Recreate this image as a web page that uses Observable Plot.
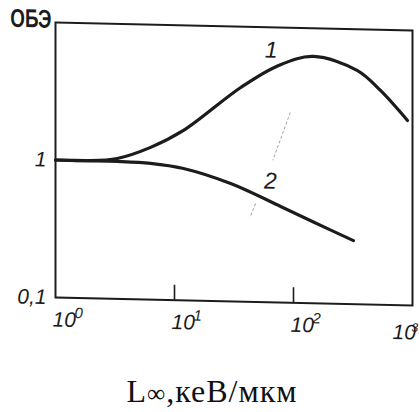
<!DOCTYPE html>
<html>
<head>
<meta charset="utf-8">
<script src="https://cdn.jsdelivr.net/npm/d3@7"></script>
<script src="https://cdn.jsdelivr.net/npm/@observablehq/plot@0.6"></script>
<style>
  html, body { margin: 0; padding: 0; background: #fff; }
  #wrap { position: relative; width: 420px; height: 412px; overflow: hidden; background: #fff; }
  #chart { position: absolute; left: 0; top: 0; }
  #chart svg { transform: skewY(1.28deg); transform-origin: 55px 297px; overflow: hidden; }
  #caption { position: absolute; left: 2px; top: 373px; width: 420px; text-align: center;
    font-family: "Liberation Serif", "Times New Roman", serif; font-size: 32px; line-height: normal;
    letter-spacing: 1px; color: #111; }
  #caption .inf { font-size: 0.8em; }
</style>
</head>
<body>
<div id="wrap">
  <div id="chart"></div>
  <div id="caption">L<span class="inf">∞</span>,кеВ/мкм</div>
</div>
<script>
// Curve 1
const x1 = [1, 1.8, 3.3, 6.3, 11.9, 36, 75, 147, 345, 538, 908];
const y1 = [1.0, 1.0, 1.05, 1.28, 1.72, 3.61, 5.3, 6.24, 5.01, 3.62, 2.21];
// Curve 2
const x2 = [1, 1.8, 3.3, 6.3, 11.9, 29.6, 78, 147, 319];
const y2 = [1.0, 1.0, 1.0, 0.98, 0.91, 0.72, 0.50, 0.39, 0.29];
// Curve labels
const labelText = ["1", "2"];
const labelX = [65, 64];
const labelY = [6.8, 0.76];
// Leader strokes (faint)
const leadX1 = [94, 48], leadY1 = [2.42, 0.52];
const leadX2 = [67, 43], leadY2 = [1.08, 0.41];
// Axis ticks / labels
const xTickVals = [1, 10, 100];
const xTickExp = ["0", "1", "2"];
const xLastVal = [1000];
const xLastExp = ["3"];
const xInnerTicks = [10, 100];
const yTickVals = [1, 0.1];
const yTickText = ["1", "0,1"];
const yTitle = "ОБЭ";

const c1 = x1.map((x, i) => ({x, y: y1[i]}));
const c2 = x2.map((x, i) => ({x, y: y2[i]}));
const labels = labelText.map((t, i) => ({t, x: labelX[i], y: labelY[i]}));
const leads = leadX1.map((x, i) => ({x1: x, y1: leadY1[i], x2: leadX2[i], y2: leadY2[i]}));

const tickFont = "'Liberation Sans Narrow', 'Liberation Sans', sans-serif";
const ink = "#1c1c1c";

const chart = Plot.plot({
  width: 420,
  height: 345,
  marginLeft: 55,
  marginRight: 8,
  marginTop: 22,
  marginBottom: 48,
  style: {background: "transparent", color: ink},
  x: {type: "log", domain: [1, 1000], axis: null},
  y: {type: "log", domain: [0.1, 10], axis: null},
  marks: [
    Plot.frame({stroke: ink, strokeWidth: 2}),
    Plot.ruleX(xInnerTicks, {x: d => d, y1: 0.1, y2: 0.1, insetTop: -15, stroke: ink, strokeWidth: 1.6}),
    Plot.link(leads, {x1: "x1", y1: "y1", x2: "x2", y2: "y2", stroke: "#aaa", strokeWidth: 1, strokeDasharray: "3,2"}),
    Plot.line(c1, {x: "x", y: "y", curve: "catmull-rom", stroke: ink, strokeWidth: 3.2}),
    Plot.line(c2, {x: "x", y: "y", curve: "catmull-rom", stroke: ink, strokeWidth: 3.2}),
    Plot.text(labels, {x: "x", y: "y", text: "t", fontSize: 23, fontStyle: "italic", fontFamily: tickFont, fill: ink}),
    // x tick labels
    Plot.text(xTickVals, {x: d => d, frameAnchor: "bottom", lineAnchor: "bottom", text: () => "10", dy: 29, dx: -3, textAnchor: "start",
      fontSize: 21, fontStyle: "italic", fontFamily: tickFont, fill: ink}),
    Plot.text(xTickVals, {x: d => d, frameAnchor: "bottom", lineAnchor: "bottom", text: (d, i) => xTickExp[i], dy: 20, dx: 19, textAnchor: "start",
      fontSize: 15, fontStyle: "italic", fontFamily: tickFont, fill: ink}),
    Plot.text(xLastVal, {x: d => d, frameAnchor: "bottom", lineAnchor: "bottom", text: () => "10", dy: 34, dx: -20, textAnchor: "start",
      fontSize: 21, fontStyle: "italic", fontFamily: tickFont, fill: ink}),
    Plot.text(xLastVal, {x: d => d, frameAnchor: "bottom", lineAnchor: "bottom", text: (d, i) => xLastExp[i], dy: 26, dx: -1, textAnchor: "start",
      fontSize: 12, fontStyle: "italic", fontFamily: tickFont, fill: ink}),
    // y tick labels
    Plot.text(yTickVals, {y: d => d, frameAnchor: "left", text: (d, i) => yTickText[i], dx: -9, textAnchor: "end",
      fontSize: 21, fontStyle: "italic", fontFamily: tickFont, fill: ink}),
    Plot.text([yTitle], {frameAnchor: "top-left", lineAnchor: "middle", text: d => d, dx: -4, dy: -3, textAnchor: "end",
      fontSize: 23, fontWeight: "bold", fontFamily: tickFont, fill: ink})
  ]
});
// condensed, tall look of the hand-lettered axis title
d3.select(chart).selectAll("text")
  .filter(function () { return this.textContent === yTitle; })
  .attr("transform", function () { return (this.getAttribute("transform") || "") + " scale(0.82,1.12)"; });
document.getElementById("chart").appendChild(chart);
</script>
</body>
</html>
